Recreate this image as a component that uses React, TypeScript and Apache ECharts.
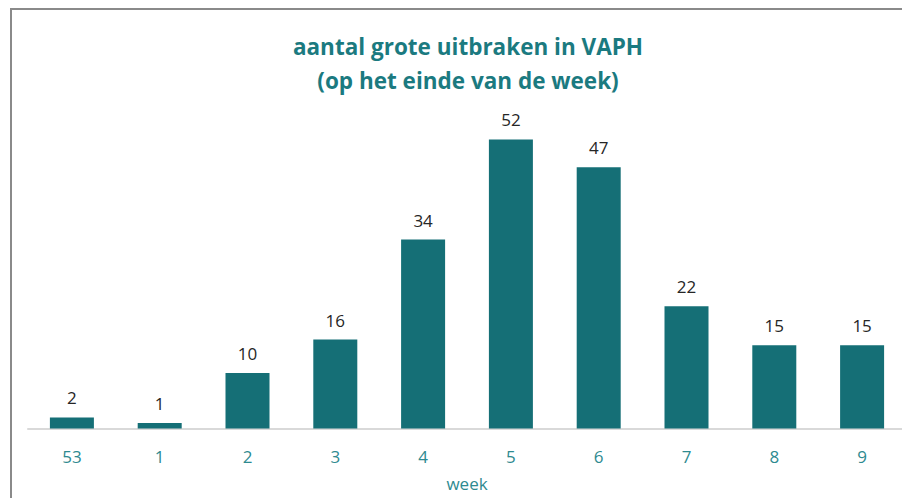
import React, { useEffect, useRef } from "react";
import * as echarts from "echarts";

const weeks = ["53", "1", "2", "3", "4", "5", "6", "7", "8", "9"];
const outbreaks = [2, 1, 10, 16, 34, 52, 47, 22, 15, 15];
const titleLines = ["aantal grote uitbraken in VAPH", "(op het einde van de week)"];
const xAxisName = "week";

export default function App() {
  const ref = useRef<HTMLDivElement>(null);
  useEffect(() => {
    if (!ref.current) return;
    const chart = echarts.init(ref.current, null, { renderer: "svg" });
    chart.setOption({
      animation: false,
      backgroundColor: "#ffffff",
      title: {
        text: titleLines.join("\n"),
        left: 463,
        textAlign: "center",
        top: 24,
        textStyle: {
          fontFamily: "Open Sans",
          fontWeight: "bold",
          fontSize: 22.5,
          lineHeight: 34,
          color: "#1b7a80",
        },
      },
      graphic: [
        { type: "line", shape: { x1: 10, y1: 9, x2: 902, y2: 9 }, style: { stroke: "#8a8a8a", lineWidth: 2 } },
        { type: "line", shape: { x1: 11, y1: 9, x2: 11, y2: 498 }, style: { stroke: "#8a8a8a", lineWidth: 2 } },
      ],
      grid: { left: 28, width: 878, top: 95, height: 333.5, outerBoundsMode: "none", containLabel: false },
      xAxis: {
        type: "category",
        data: weeks,
        name: xAxisName,
        nameLocation: "middle",
        nameGap: 46,
        nameTextStyle: { fontFamily: "Open Sans", fontSize: 17, color: "#2e8a90" },
        axisLine: { lineStyle: { color: "#d9d9d9", width: 2 } },
        axisTick: { show: false },
        axisLabel: { fontFamily: "Open Sans", fontSize: 17, color: "#2e8a90", margin: 19 },
      },
      yAxis: {
        type: "value",
        min: 0,
        max: 60,
        show: false,
        splitLine: { show: false },
      },
      series: [
        {
          type: "bar",
          data: outbreaks,
          barWidth: 44,
          itemStyle: { color: "#156f76" },
          label: {
            show: true,
            position: "top",
            distance: 11,
            fontFamily: "Open Sans",
            fontSize: 17,
            color: "#262626",
          },
        },
      ],
    });
    return () => chart.dispose();
  }, []);
  return (
    <div
      ref={ref}
      style={{ position: "fixed", left: 0, top: 0, width: 902, height: 498 }}
    />
  );
}
